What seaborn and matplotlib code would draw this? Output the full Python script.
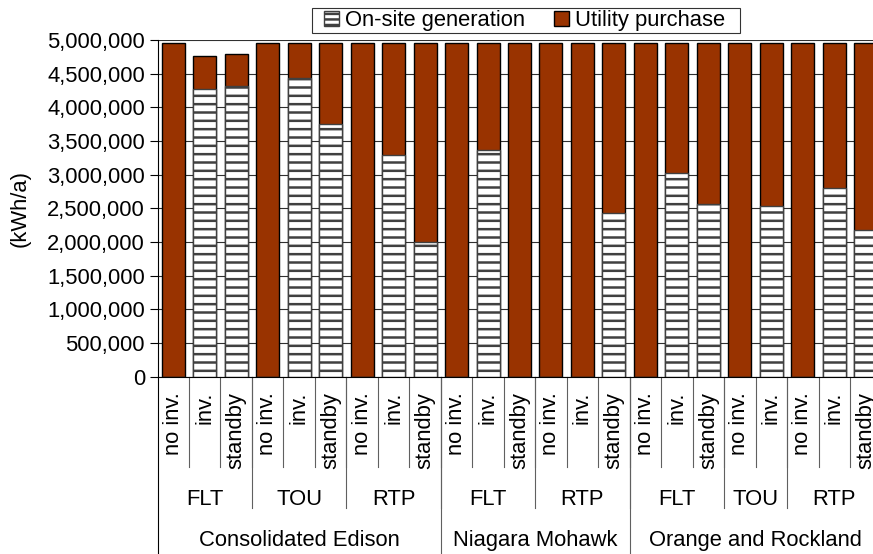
import pandas as pd
import matplotlib
matplotlib.use("Agg")
import matplotlib.pyplot as plt
import matplotlib.transforms as mtransforms
from matplotlib.patches import Patch, Rectangle
from matplotlib.legend_handler import HandlerPatch
from matplotlib.ticker import FuncFormatter
import seaborn as sns

# datos
companies = ["Consolidated Edison", "Niagara Mohawk", "Orange and Rockland"]
tariffs = [["FLT", "TOU", "RTP"], ["FLT", "RTP"], ["FLT", "TOU", "RTP"]]
options = [
    [["no inv.", "inv.", "standby"], ["no inv.", "inv.", "standby"], ["no inv.", "inv.", "standby"]],
    [["no inv.", "inv.", "standby"], ["no inv.", "inv.", "standby"]],
    [["no inv.", "inv.", "standby"], ["no inv.", "inv."], ["no inv.", "inv.", "standby"]],
]
onsite = [0, 4270000, 4310000, 0, 4440000, 3760000, 0, 3290000, 2005000,
          0, 3360000, 0, 0, 0, 2435000,
          0, 3030000, 2560000, 0, 2535000, 0, 2800000, 2175000]
total = [4950000, 4755000, 4790000, 4950000, 4950000, 4950000, 4950000, 4950000, 4950000,
         4950000, 4950000, 4950000, 4950000, 4950000, 4950000,
         4950000, 4950000, 4950000, 4950000, 4950000, 4950000, 4950000, 4950000]

rows = []
for c, comp in enumerate(companies):
    for t, tar in enumerate(tariffs[c]):
        for opt in options[c][t]:
            rows.append({"company": comp, "tariff": tar, "option": opt})
df = pd.DataFrame(rows)
df["key"] = [str(i) for i in range(len(df))]
df["onsite"] = onsite
df["total"] = total

plt.rcParams["font.family"] = ["Liberation Sans", "DejaVu Sans"]
plt.rcParams["hatch.linewidth"] = 1.8
plt.rcParams["hatch.color"] = "#404040"

fs = 15.8
red = "#993300"
fig = plt.figure(figsize=(8.73, 5.54), dpi=100)
ax = fig.add_axes([157.5 / 873, 177.3 / 554, 724 / 873, 336.7 / 554])

ax.yaxis.grid(True, color="#303030", linewidth=0.8)
ax.set_axisbelow(True)

sns.barplot(data=df, x="key", y="total", color=red, edgecolor="black",
            linewidth=1, width=0.73, saturation=1, ax=ax)
sns.barplot(data=df, x="key", y="onsite", color="white", edgecolor="#404040",
            linewidth=1, width=0.73, saturation=1, hatch="--", ax=ax)

ax.set_xlim(-0.5, len(df) - 0.5)
ax.set_ylim(0, 5000000)
ax.set_yticks(range(0, 5000001, 500000))
ax.yaxis.set_major_formatter(FuncFormatter(lambda v, p: f"{int(v):,}"))
ax.tick_params(axis="y", labelsize=fs, length=6, width=0.8, color="black", pad=3)
ax.tick_params(axis="x", length=0, labelbottom=False)
ax.set_xlabel("")
ax.set_ylabel("(kWh/a)", fontsize=fs)
ax.yaxis.set_label_coords(-0.175, 0.5)
for s in ["top", "right"]:
    ax.spines[s].set_visible(False)
ax.spines["left"].set_linewidth(0.8)
ax.spines["bottom"].set_linewidth(0.8)

# etiquetas de varios niveles en el eje x
trans = mtransforms.blended_transform_factory(ax.transData, ax.transAxes)
n = len(df)
for i in range(n):
    ax.text(i, -0.045, df["option"][i], rotation=90, ha="center", va="top",
            fontsize=fs, transform=trans)

for i in range(1, n):
    ax.plot([i - 0.5, i - 0.5], [0, -0.268], color="#606060", lw=0.8,
            transform=trans, clip_on=False)

start = 0
for c, comp in enumerate(companies):
    cstart = start
    for t, tar in enumerate(tariffs[c]):
        k = len(options[c][t])
        ax.text(start + (k - 1) / 2, -0.364, tar, ha="center", va="center",
                fontsize=fs, transform=trans)
        start += k
        ax.plot([start - 0.5, start - 0.5], [0, -0.39], color="#606060", lw=0.8,
                transform=trans, clip_on=False)
    ax.text((cstart + start - 1) / 2, -0.486, comp, ha="center", va="center",
            fontsize=fs, transform=trans)
    ax.plot([start - 0.5, start - 0.5], [0, -0.6], color="#606060", lw=0.8,
            transform=trans, clip_on=False)
ax.plot([-0.5, -0.5], [0, -0.6], color="black", lw=0.8, transform=trans, clip_on=False)


# cuadrado de la leyenda alineado a la derecha
def right_square(legend, orig_handle, xdescent, ydescent, width, height, fontsize):
    return Rectangle((-xdescent + width - height, -ydescent), height, height)


handles = [Patch(facecolor="white", edgecolor="#404040", hatch="---", label="On-site generation"),
           Patch(facecolor=red, edgecolor="black", label="Utility purchase  ")]
leg = fig.legend(handles=handles, loc="center", bbox_to_anchor=(526 / 873, 1 - 20.5 / 554),
                 ncol=2, frameon=True, fancybox=False, edgecolor="black", fontsize=fs,
                 handlelength=1.14, handleheight=0.68, handletextpad=0.27, columnspacing=0.87,
                 borderpad=0.1, borderaxespad=0,
                 handler_map={Patch: HandlerPatch(patch_func=right_square)})
leg.get_frame().set_linewidth(0.8)

fig.savefig("out.png", dpi=100)
